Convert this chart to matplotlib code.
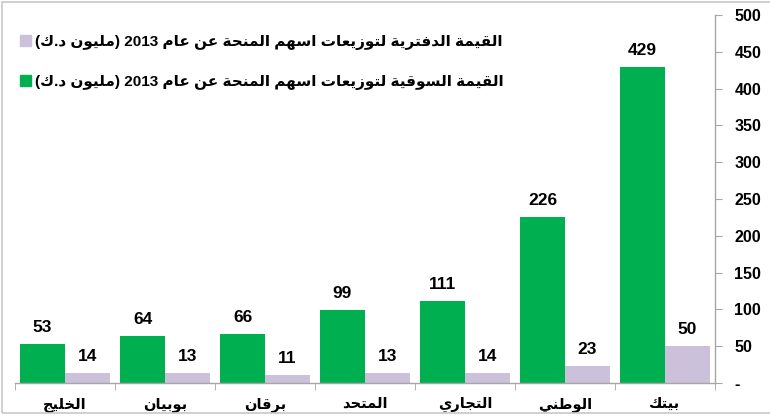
import re
import matplotlib
matplotlib.use("Agg")
import matplotlib.pyplot as plt
from matplotlib.patches import Rectangle

# ---------------- data ----------------
categories = ["بيتك", "الوطني", "التجاري", "المتحد", "برقان", "بوبيان", "الخليج"]
market_values = [429, 226, 111, 99, 66, 64, 53]
book_values = [50, 23, 14, 13, 11, 13, 14]
series_names = [
    "القيمة الدفترية لتوزيعات اسهم المنحة عن عام 2013 (مليون د.ك)",
    "القيمة السوقية لتوزيعات اسهم المنحة عن عام 2013 (مليون د.ك)",
]
y_ticks = [0, 50, 100, 150, 200, 250, 300, 350, 400, 450, 500]
y_tick_labels = ["-", "50", "100", "150", "200", "250", "300", "350", "400", "450", "500"]

GREEN = "#00B050"
LAVENDER = "#CCC1DA"
FAMILY = ["Liberation Sans", "DejaVu Sans"]

# ------------- minimal Arabic shaping (presentation forms) + RTL -------------
FORMS = {
    "ا": (0xFE8D, 0xFE8E, None, None),
    "ب": (0xFE8F, 0xFE90, 0xFE91, 0xFE92),
    "ة": (0xFE93, 0xFE94, None, None),
    "ت": (0xFE95, 0xFE96, 0xFE97, 0xFE98),
    "ث": (0xFE99, 0xFE9A, 0xFE9B, 0xFE9C),
    "ج": (0xFE9D, 0xFE9E, 0xFE9F, 0xFEA0),
    "ح": (0xFEA1, 0xFEA2, 0xFEA3, 0xFEA4),
    "خ": (0xFEA5, 0xFEA6, 0xFEA7, 0xFEA8),
    "د": (0xFEA9, 0xFEAA, None, None),
    "ذ": (0xFEAB, 0xFEAC, None, None),
    "ر": (0xFEAD, 0xFEAE, None, None),
    "ز": (0xFEAF, 0xFEB0, None, None),
    "س": (0xFEB1, 0xFEB2, 0xFEB3, 0xFEB4),
    "ش": (0xFEB5, 0xFEB6, 0xFEB7, 0xFEB8),
    "ص": (0xFEB9, 0xFEBA, 0xFEBB, 0xFEBC),
    "ض": (0xFEBD, 0xFEBE, 0xFEBF, 0xFEC0),
    "ط": (0xFEC1, 0xFEC2, 0xFEC3, 0xFEC4),
    "ظ": (0xFEC5, 0xFEC6, 0xFEC7, 0xFEC8),
    "ع": (0xFEC9, 0xFECA, 0xFECB, 0xFECC),
    "غ": (0xFECD, 0xFECE, 0xFECF, 0xFED0),
    "ف": (0xFED1, 0xFED2, 0xFED3, 0xFED4),
    "ق": (0xFED5, 0xFED6, 0xFED7, 0xFED8),
    "ك": (0xFED9, 0xFEDA, 0xFEDB, 0xFEDC),
    "ل": (0xFEDD, 0xFEDE, 0xFEDF, 0xFEE0),
    "م": (0xFEE1, 0xFEE2, 0xFEE3, 0xFEE4),
    "ن": (0xFEE5, 0xFEE6, 0xFEE7, 0xFEE8),
    "ه": (0xFEE9, 0xFEEA, 0xFEEB, 0xFEEC),
    "و": (0xFEED, 0xFEEE, None, None),
    "ى": (0xFEEF, 0xFEF0, None, None),
    "ي": (0xFEF1, 0xFEF2, 0xFEF3, 0xFEF4),
}


def shape(s):
    units = []
    i = 0
    while i < len(s):
        c = s[i]
        if c == "ل" and i + 1 < len(s) and s[i + 1] == "ا":
            units.append("LA")
            i += 2
        else:
            units.append(c)
            i += 1

    def is_ar(u):
        return u == "LA" or u in FORMS

    def dual(u):
        return u in FORMS and FORMS[u][2] is not None

    out = []
    for k, u in enumerate(units):
        if not is_ar(u):
            out.append(u)
            continue
        prev = units[k - 1] if k > 0 else None
        nxt = units[k + 1] if k + 1 < len(units) else None
        pj = prev is not None and dual(prev)
        if u == "LA":
            out.append(chr(0xFEFC if pj else 0xFEFB))
            continue
        nj = dual(u) and nxt is not None and is_ar(nxt)
        iso, fin, ini, med = FORMS[u]
        if pj and nj:
            out.append(chr(med))
        elif pj:
            out.append(chr(fin))
        elif nj:
            out.append(chr(ini))
        else:
            out.append(chr(iso))
    return "".join(out)


def ar(s):
    r = shape(s)[::-1]
    r = re.sub(r"[0-9A-Za-z]+", lambda m: m.group(0)[::-1], r)
    return r.translate(str.maketrans("()", ")("))


# ---------------- figure ----------------
W, H = 770, 418
fig = plt.figure(figsize=(W / 100, H / 100), dpi=100)
fig.patches.append(Rectangle((2 / W, 1 - 413 / H), 800 / W, 411 / H, transform=fig.transFigure,
                             fill=False, edgecolor="#C8C8C8", linewidth=1.2))

ax = fig.add_axes([15 / W, 1 - 383 / H, 700 / W, 368 / H])

n = len(categories)
pos = list(range(n))
bw = 0.45
green_x = [p + bw / 2 for p in pos]
purple_x = [p - bw / 2 for p in pos]
gb = ax.bar(green_x, market_values, width=bw, color=GREEN, zorder=2)
pb = ax.bar(purple_x, book_values, width=bw, color=LAVENDER, zorder=2)

for rects, vals in ((gb, market_values), (pb, book_values)):
    for r, v in zip(rects, vals):
        ax.annotate(f"{v}", (r.get_x() + r.get_width() / 2, r.get_height()),
                    xytext=(0, 6.5), textcoords="offset points", ha="center", va="bottom",
                    fontsize=12.5, fontweight="bold", family=FAMILY, color="black")

ax.set_xlim(n - 0.5, -0.5)
ax.set_ylim(0, 500)

for s in ("top", "left"):
    ax.spines[s].set_visible(False)
for s in ("bottom", "right"):
    ax.spines[s].set_color("#A6A6A6")
    ax.spines[s].set_linewidth(1.0)

ax.yaxis.tick_right()
ax.set_yticks(y_ticks)
ax.set_yticklabels(y_tick_labels)
ax.tick_params(axis="y", direction="out", length=5, color="#A6A6A6", pad=9)
for t in ax.get_yticklabels():
    t.set_fontweight("bold")
    t.set_fontsize(11.5)
    t.set_family(FAMILY)

ax.set_xticks(pos)
ax.set_xticklabels([ar(c) for c in categories])
ax.set_xticks([p - 0.5 for p in range(n + 1)], minor=True)
ax.tick_params(axis="x", which="major", length=0, pad=10)
ax.tick_params(axis="x", which="minor", direction="out", length=5, color="#A6A6A6")
for t in ax.get_xticklabels():
    t.set_fontweight("bold")
    t.set_fontsize(10.5)
    t.set_family(FAMILY)

handles = [Rectangle((0, 0), 1, 1, color=LAVENDER), Rectangle((0, 0), 1, 1, color=GREEN)]
leg = fig.legend(handles, [ar(s) for s in series_names], loc="upper left",
                 bbox_to_anchor=(20 / W, 1 - 35 / H), frameon=False,
                 prop={"family": FAMILY, "weight": "bold", "size": 11},
                 handlelength=0.75, handleheight=0.75, handletextpad=0.2, labelspacing=1.65,
                 borderaxespad=0, borderpad=0)

fig.savefig("out.png", dpi=100)
